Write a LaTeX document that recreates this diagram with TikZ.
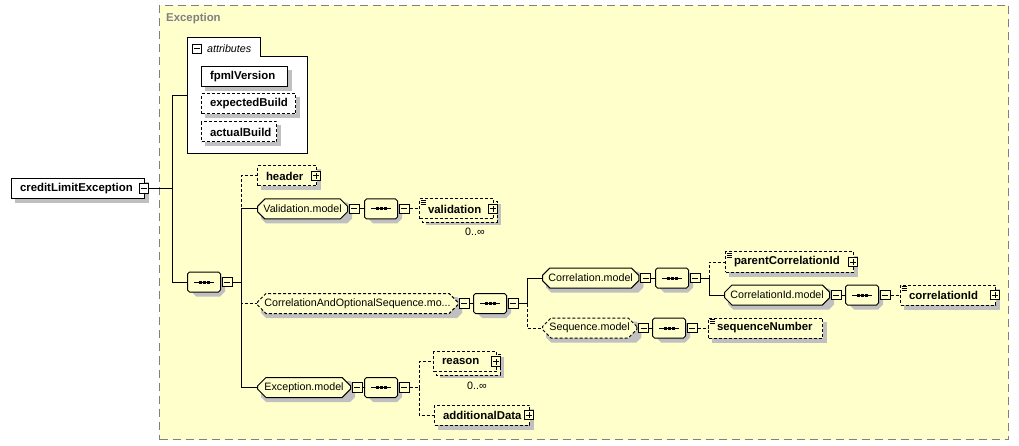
\documentclass[tikz,border=0pt]{standalone}
\usepackage{fontspec}
\setmainfont{Liberation Sans}
\usetikzlibrary{shapes.misc,calc}
\definecolor{bg}{HTML}{FFFFCC}
\definecolor{shadowgray}{HTML}{C0C0C0}
\definecolor{framegray}{HTML}{808080}
\pgfdeclarelayer{bgl}
\pgfdeclarelayer{shl}
\pgfsetlayers{bgl,shl,main}
\newcommand\elfont{\fontsize{11.4}{13}\selectfont\bfseries}
\newcommand\grfont{\fontsize{10.7}{12}\selectfont}
\newcommand\eqicon[1]{%
  \foreach \dy in {2,3.8,5.6}
    \draw[line width=0.6pt] ([xshift=1.5pt,yshift=-\dy pt]#1.north west) -- ++(5pt,0pt);}
\newcommand\compsym[1]{%
  \draw[line width=1pt] ([xshift=-10pt]#1.center) -- ([xshift=10pt]#1.center);
  \foreach \dx in {-4,0,4}
    \fill[black] ([shift={(\dx pt-1.5pt,-1.5pt)}]#1.center) rectangle ([shift={(\dx pt+1.5pt,1.5pt)}]#1.center);}
% rectangular shadow: #1 = shift, #2 = node
\newcommand\boxshadow[2]{%
  \begin{pgfonlayer}{shl}
    \fill[shadowgray] ($(#2.north west)+(#1)$) rectangle ($(#2.south east)+(#1)$);
  \end{pgfonlayer}}
% stacked (multiple occurrence) copy behind a box
\newcommand\boxcopy[1]{%
  \begin{pgfonlayer}{shl}
    \draw[line width=1pt, fill=bg, dash pattern=on 3pt off 2pt]
      ($(#1.north west)+(3pt,-3pt)$) rectangle ($(#1.south east)+(3pt,-3pt)$);
  \end{pgfonlayer}}
% octagon shadow
\newcommand\octshadow[1]{%
  \begin{pgfonlayer}{shl}
    \fill[shadowgray] ($(#1.west |- #1.north)+(9pt,-4pt)$) -- ($(#1.east |- #1.north)+(-1pt,-4pt)$)
      -- ($(#1.east |- #1.north)+(4pt,-9pt)$) -- ($(#1.east |- #1.south)+(4pt,1pt)$)
      -- ($(#1.east |- #1.south)+(-1pt,-4pt)$) -- ($(#1.west |- #1.south)+(9pt,-4pt)$)
      -- ($(#1.west |- #1.south)+(4pt,1pt)$) -- ($(#1.west |- #1.north)+(4pt,-9pt)$) -- cycle;
  \end{pgfonlayer}}
\tikzset{
  conn/.style={line width=1pt},
  optconn/.style={line width=1pt, dash pattern=on 3pt off 2pt},
  optb/.style={dash pattern=on 3pt off 2pt},
  elem/.style={draw, line width=1pt, fill=bg, minimum height=20pt, inner xsep=8.5pt,
    inner ysep=0pt, align=left, text width=#1, font=\elfont, anchor=west},
  grp/.style={chamfered rectangle, chamfered rectangle xsep=5pt, draw, line width=1pt,
    fill=bg, minimum height=20pt, minimum width=#1, inner xsep=2pt, inner ysep=0pt,
    font=\grfont, anchor=west},
  comp/.style={grp=33pt},
  pmbox/.style={draw, line width=1pt, fill=bg, minimum size=9.5pt, inner sep=0pt},
  minusbox/.style={pmbox, path picture={
      \draw[black, line width=1pt] ([xshift=-3pt]path picture bounding box.center) -- ([xshift=3pt]path picture bounding box.center);}},
  plusbox/.style={pmbox, path picture={
      \draw[black, line width=1pt] ([xshift=-3pt]path picture bounding box.center) -- ([xshift=3pt]path picture bounding box.center);
      \draw[black, line width=1pt] ([yshift=-3pt]path picture bounding box.center) -- ([yshift=3pt]path picture bounding box.center);}},
  card/.style={font=\grfont, inner sep=0pt}
}
\begin{document}
\begin{tikzpicture}[x=1pt,y=-1pt]
\useasboundingbox (0,0) rectangle (1019,446);
% Exception frame
\begin{pgfonlayer}{bgl}
\node[draw=framegray, line width=1pt, dash pattern=on 8pt off 5pt, fill=bg,
  minimum width=849pt, minimum height=434pt, anchor=north west, inner sep=0pt] (exc) at (159,5) {};
\node[minimum width=120pt, minimum height=115pt, anchor=north west, inner sep=0pt] (attrs) at (187,38) {};
\draw[line width=1pt, fill=white] (attrs.north west) -- ([xshift=73pt]attrs.north west)
  -- ([xshift=73pt,yshift=-19pt]attrs.north west) -- ([yshift=-19pt]attrs.north east)
  -- (attrs.south east) -- (attrs.south west) -- cycle;
\end{pgfonlayer}
\node[anchor=west, inner sep=0pt, font=\elfont, text=framegray] (exclabel) at (166,19) {Exception};

% root
\node[elem=116pt, fill=white] (root) at (11,188.5) {creditLimitException};
\boxshadow{4pt,-4pt}{root}
\node[minusbox, fill=white] (rootm) at ([xshift=-1pt]root.east) {};

% attributes
\node[minusbox, fill=white] (attrm) at (197,49) {};
\node[anchor=west, inner sep=0pt, font=\grfont\itshape] (attrlabel) at (207,48.5) {attributes};
\node[elem=69pt, fill=white] (fpml) at (201,77) {fpmlVersion};
\boxshadow{4pt,-4pt}{fpml}
\node[elem=77pt, fill=white, optb] (expb) at (201,104) {expectedBuild};
\boxshadow{4pt,-4pt}{expb}
\node[elem=58pt, fill=white, optb] (actb) at (201,132) {actualBuild};
\boxshadow{4pt,-4pt}{actb}

% first sequence
\node[comp] (s1) at (187,282) {};
\octshadow{s1}\compsym{s1}
\node[minusbox, anchor=west] (s1m) at ([xshift=1pt]s1.east) {};
\coordinate (j0) at (172,188.5);
\coordinate (j1) at (241,282);

% children of s1
\node[elem=42pt, optb] (header) at (257,176) {header};
\boxshadow{4pt,-4pt}{header}
\node[plusbox] (headerp) at ([xshift=-1pt]header.east) {};

\node[grp=86pt] (valm) at (257,209) {Validation.model};
\octshadow{valm}
\node[minusbox, anchor=west] (valmm) at ([xshift=1pt]valm.east) {};
\node[comp] (s2) at (364,209) {};
\octshadow{s2}\compsym{s2}
\node[minusbox, anchor=west] (s2m) at ([xshift=1pt]s2.east) {};
\node[elem=57pt, optb] (valid) at (419,209) {validation};
\boxshadow{7pt,-6pt}{valid}\boxcopy{valid}
\node[plusbox] (validp) at ([xshift=-1pt]valid.east) {};
\eqicon{valid}
\node[card] (validc) at (475,232) {0..∞};

\node[grp=195pt, optb] (cao) at (257,303.5) {CorrelationAndOptionalSequence.mo...};
\octshadow{cao}
\node[minusbox, anchor=west] (caom) at ([xshift=1pt]cao.east) {};
\node[comp] (s3) at (473,303.5) {};
\octshadow{s3}\compsym{s3}
\node[minusbox, anchor=west] (s3m) at ([xshift=1pt]s3.east) {};
\coordinate (j3) at (527,303.5);

\node[grp=93pt] (corm) at (542,278) {Correlation.model};
\octshadow{corm}
\node[minusbox, anchor=west] (cormm) at ([xshift=1pt]corm.east) {};
\node[comp] (s4) at (655,278) {};
\octshadow{s4}\compsym{s4}
\node[minusbox, anchor=west] (s4m) at ([xshift=1pt]s4.east) {};
\coordinate (j4) at (709,278);

\node[elem=111pt, optb] (pcid) at (725,262) {parentCorrelationId};
\boxshadow{4pt,-4pt}{pcid}
\node[plusbox] (pcidp) at ([xshift=-1pt]pcid.east) {};
\eqicon{pcid}

\node[grp=99pt] (cidm) at (724,295) {CorrelationId.model};
\octshadow{cidm}
\node[minusbox, anchor=west] (cidmm) at ([xshift=1pt]cidm.east) {};
\node[comp] (s5) at (845,295) {};
\octshadow{s5}\compsym{s5}
\node[minusbox, anchor=west] (s5m) at ([xshift=1pt]s5.east) {};
\node[elem=78pt, optb] (cid) at (900,295) {correlationId};
\boxshadow{4pt,-4pt}{cid}
\node[plusbox] (cidp) at ([xshift=-1pt]cid.east) {};
\eqicon{cid}

\node[grp=88pt, optb] (seqm) at (542,328) {Sequence.model};
\octshadow{seqm}
\node[minusbox, anchor=west] (seqmm) at ([xshift=1pt]seqm.east) {};
\node[comp] (s6) at (652,328) {};
\octshadow{s6}\compsym{s6}
\node[minusbox, anchor=west] (s6m) at ([xshift=1pt]s6.east) {};
\node[elem=97pt, optb] (seqn) at (708,328) {sequenceNumber};
\boxshadow{4pt,-4pt}{seqn}
\eqicon{seqn}

\node[grp=86pt] (excm) at (257,387.5) {Exception.model};
\octshadow{excm}
\node[minusbox, anchor=west] (excmm) at ([xshift=1pt]excm.east) {};
\node[comp] (s7) at (364,387.5) {};
\octshadow{s7}\compsym{s7}
\node[minusbox, anchor=west] (s7m) at ([xshift=1pt]s7.east) {};
\coordinate (j7) at (419,387.5);
\node[elem=46pt, optb] (reason) at (433,361.5) {reason};
\boxshadow{7pt,-6pt}{reason}\boxcopy{reason}
\node[plusbox] (reasonp) at ([xshift=-1pt]reason.east) {};
\node[card] (reasonc) at (477,386) {0..∞};
\node[elem=78pt, optb] (addd) at (434,415) {additionalData};
\boxshadow{4pt,-4pt}{addd}
\node[plusbox] (adddp) at ([xshift=-1pt]addd.east) {};

% connectors
\draw[conn] (rootm.east) -- (j0) |- (attrs.west);
\draw[conn] (j0) |- (s1.west);
\draw[conn] (s1m.east) -- (j1);
\draw[optconn] (j1) |- (header.west);
\draw[optconn] (j1) |- (cao.west);
\draw[conn] (j1) |- (valm.west);
\draw[conn] (j1) |- (excm.west);
\draw[conn] (valmm.east) -- (s2.west);
\draw[optconn] (s2m.east) -- (valid.west);
\draw[conn] (caom.east) -- (s3.west);
\draw[conn] (s3m.east) -- (j3);
\draw[optconn] (j3) |- (seqm.west);
\draw[conn] (j3) |- (corm.west);
\draw[conn] (cormm.east) -- (s4.west);
\draw[conn] (s4m.east) -- (j4);
\draw[optconn] (j4) |- (pcid.west);
\draw[conn] (j4) |- (cidm.west);
\draw[conn] (cidmm.east) -- (s5.west);
\draw[optconn] (s5m.east) -- (cid.west);
\draw[conn] (seqmm.east) -- (s6.west);
\draw[optconn] (s6m.east) -- (seqn.west);
\draw[conn] (excmm.east) -- (s7.west);
\draw[optconn] (s7m.east) -- (j7);
\draw[optconn] (j7) |- (reason.west);
\draw[optconn] (j7) |- (addd.west);
\end{tikzpicture}
\end{document}
